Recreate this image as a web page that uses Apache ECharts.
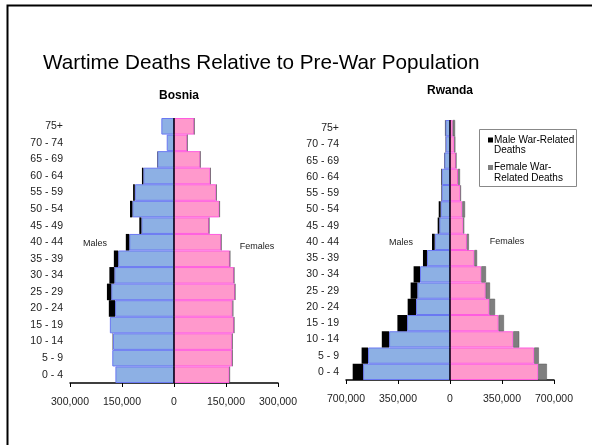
<!DOCTYPE html>
<html>
<head>
<meta charset="utf-8">
<script src="https://cdn.jsdelivr.net/npm/echarts@6/dist/echarts.min.js"></script>
<style>
html,body{margin:0;padding:0;background:#fff;}
#c{width:592px;height:445px;}
</style>
</head>
<body>
<div id="c"></div>
<script>
// Age groups, bottom to top
var categories = ['0 - 4','5 - 9','10 - 14','15 - 19','20 - 24','25 - 29','30 - 34','35 - 39','40 - 44','45 - 49','50 - 54','55 - 59','60 - 64','65 - 69','70 - 74','75+'];

// Bosnia (persons)
var bosniaMales        = [169000,178000,176000,185000,170000,181000,172000,161000,129000,94000,120000,113000,88500,48000,21000,36500];
var bosniaMaleDeaths   = [0,0,1000,0,18000,12500,14400,12500,10000,6000,7000,5000,4000,1000,0,0];
var bosniaFemales      = [160000,168000,168000,173000,169000,176000,173000,161000,136000,101000,131000,122000,105000,76000,38500,58600];
var bosniaFemaleDeaths = [1000,1000,1000,1000,2000,1000,1000,1000,1000,1000,1000,1000,500,0,0,0];

// Rwanda (persons)
var rwandaMales        = [585000,552000,410000,289000,229000,220000,202000,155000,103000,72000,63000,56000,56000,38000,29000,31000];
var rwandaMaleDeaths   = [70000,43000,49000,65000,56000,45000,43000,27000,18000,11000,13000,3000,4000,2000,2000,3000];
var rwandaFemales      = [594000,567000,426000,327000,265000,240000,211000,164000,114000,90000,83000,70000,54000,40000,29000,18000];
var rwandaFemaleDeaths = [58000,31000,40000,36000,38000,29000,31000,18000,13000,5000,18000,3000,13000,3000,7000,16000];

var bosniaTicks = {min:-300000, max:300000, interval:150000};
var rwandaTicks = {min:-700000, max:700000, interval:350000};

var FONT = "'Liberation Sans', Arial, sans-serif";
function neg(a){ return a.map(function(v){ return -v; }); }
function fmt(v){ return Math.abs(v).toString().replace(/\B(?=(\d{3})+(?!\d))/g, ','); }

function xAxisFor(idx, t){
  return {
    type:'value', gridIndex:idx, min:t.min, max:t.max, interval:t.interval,
    axisLine:{show:true, onZero:false, lineStyle:{color:'#000', width:1.5}},
    axisTick:{show:true, length:4, lineStyle:{color:'#000'}},
    splitLine:{show:false},
    axisLabel:{formatter:fmt, color:'#222', fontSize:10.5, fontFamily:FONT, margin:14}
  };
}
function yAxisFor(idx){
  return {
    type:'category', gridIndex:idx, data:categories,
    axisLine:{show:false}, axisTick:{show:false},
    axisLabel:{color:'#222', fontSize:10.5, fontFamily:FONT, margin:7}
  };
}
function barsFor(idx, m, md, f, fd, femDeathColor){
  var base = {type:'bar', xAxisIndex:idx, yAxisIndex:idx, stack:'pyr'+idx, barCategoryGap:'0%', animation:false};
  return [
    Object.assign({}, base, {name:'Males', data:neg(m),
      itemStyle:{color:'#8db0e4', borderColor:'#6a78f2', borderWidth:1},
      markLine:{silent:true, symbol:'none', label:{show:false}, animation:false, z:20,
        lineStyle:{color:'#000', type:'solid', width:1.5}, data:[{xAxis:0}]}}),
    Object.assign({}, base, {name:'Male War-Related Deaths', data:neg(md),
      itemStyle:{color:'#000'}}),
    Object.assign({}, base, {name:'Females', data:f,
      itemStyle:{color:'#ff99cc', borderColor:'#ff5ce0', borderWidth:1}}),
    Object.assign({}, base, {name:'Female War-Related Deaths', data:fd,
      itemStyle:{color:femDeathColor, borderColor:'#555', borderWidth:0.5}})
  ];
}

var chart = echarts.init(document.getElementById('c'), null, {renderer:'canvas'});
chart.setOption({
  animation:false,
  backgroundColor:'#fff',
  title:[
    {text:'Wartime Deaths Relative to Pre-War Population', left:43, top:53, padding:0,
      textStyle:{fontFamily:FONT, fontSize:20.7, fontWeight:'normal', color:'#000'}},
    {text:'Bosnia', left:179, top:90, padding:0, textAlign:'center',
      textStyle:{fontFamily:FONT, fontSize:12, fontWeight:'bold', color:'#000'}},
    {text:'Rwanda', left:450, top:85, padding:0, textAlign:'center',
      textStyle:{fontFamily:FONT, fontSize:12, fontWeight:'bold', color:'#000'}}
  ],
  grid:[
    {left:70, top:118, width:208, height:265},
    {left:346, top:120, width:208, height:260}
  ],
  xAxis:[xAxisFor(0, bosniaTicks), xAxisFor(1, rwandaTicks)],
  yAxis:[yAxisFor(0), yAxisFor(1)],
  series: barsFor(0, bosniaMales, bosniaMaleDeaths, bosniaFemales, bosniaFemaleDeaths, '#a6a6a6')
    .concat(barsFor(1, rwandaMales, rwandaMaleDeaths, rwandaFemales, rwandaFemaleDeaths, '#7f7f7f')),
  graphic:[
    {type:'rect', shape:{x:7.5, y:5.5, width:620, height:500}, style:{fill:'none', stroke:'#000', lineWidth:2}, silent:true},
    {type:'text', x:95, y:244, style:{text:'Males', font:"9px 'Liberation Sans', Arial", fill:'#222', textAlign:'center', textVerticalAlign:'middle'}},
    {type:'text', x:257, y:247, style:{text:'Females', font:"9px 'Liberation Sans', Arial", fill:'#222', textAlign:'center', textVerticalAlign:'middle'}},
    {type:'text', x:401, y:243, style:{text:'Males', font:"9px 'Liberation Sans', Arial", fill:'#222', textAlign:'center', textVerticalAlign:'middle'}},
    {type:'text', x:507, y:242, style:{text:'Females', font:"9px 'Liberation Sans', Arial", fill:'#222', textAlign:'center', textVerticalAlign:'middle'}},
    {type:'rect', shape:{x:479.5, y:129.5, width:97, height:57}, style:{fill:'#fff', stroke:'#888', lineWidth:1}, z:10},
    {type:'rect', shape:{x:488, y:137.5, width:5, height:5}, style:{fill:'#000'}, z:11},
    {type:'rect', shape:{x:488, y:165, width:5, height:5}, style:{fill:'#7f7f7f'}, z:11},
    {type:'text', x:494, y:134.5, z:11, style:{text:'Male War-Related\nDeaths', font:"10px 'Liberation Sans', Arial", fill:'#000', lineHeight:10.5}},
    {type:'text', x:494, y:162, z:11, style:{text:'Female War-\nRelated Deaths', font:"10px 'Liberation Sans', Arial", fill:'#000', lineHeight:10.5}}
  ]
});
</script>
</body>
</html>
